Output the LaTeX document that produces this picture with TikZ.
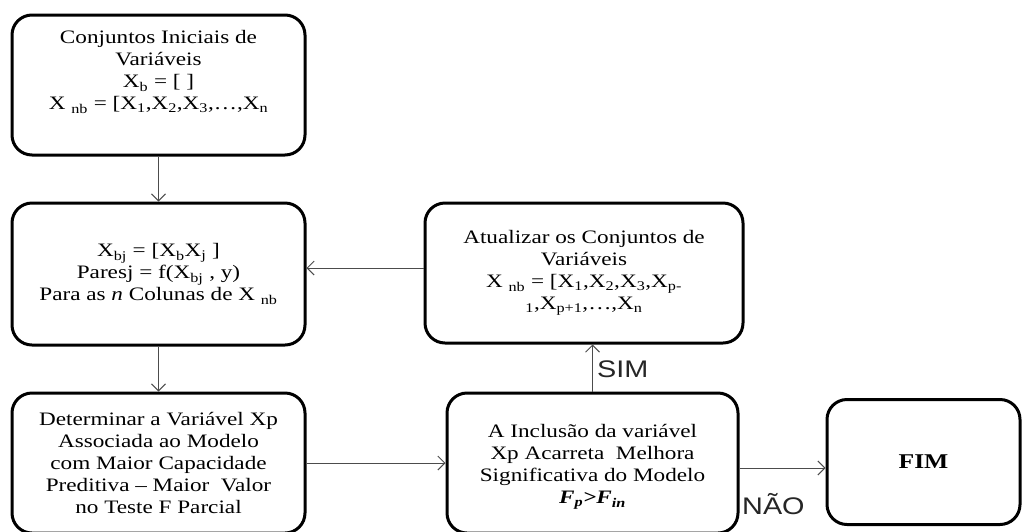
\documentclass[tikz,border=0pt]{standalone}
\usepackage{fontspec}
\setmainfont{Liberation Serif}[FakeStretch=1.22]
\newfontfamily\labelfont{Liberation Sans}[FakeStretch=1.2]
\usetikzlibrary{arrows.meta}
\tikzset{
  x=1pt, y=-1pt,
  flowbox/.style={draw, line width=3pt, rounded corners=20pt, align=center,
    inner sep=0pt, font=\fontsize{19}{22}\selectfont},
  boxtext/.style={align=center, inner sep=0pt, font=\fontsize{19}{22}\selectfont},
  flowarrow/.style={draw=black!70, line width=1pt,
    -{Straight Barb[length=7pt,width=14pt]}},
  branchlabel/.style={font=\labelfont\fontsize{24}{26}\selectfont, text=black!85, inner sep=0pt}
}
\newcommand{\sbs}[1]{\textsubscript{#1}}
\begin{document}
\begin{tikzpicture}
\useasboundingbox (0,0) rectangle (1024,531);

\node[flowbox, minimum width=293pt, minimum height=140pt] (ini) at (158.5,85) {};
\node[boxtext] (initext) at (158.5,72)
  {Conjuntos Iniciais de\\Variáveis\\X\sbs{b} = [ ]\\X \sbs{nb} = [X\sbs{1},X\sbs{2},X\sbs{3},…,X\sbs{n}};
\node[flowbox, minimum width=293pt, minimum height=142pt] (par) at (158.5,274)
  {X\sbs{bj} = [X\sbs{b}X\sbs{j} ]\\Paresj = f(X\sbs{bj} , y)\\Para as \textit{n} Colunas de X \sbs{nb}};
\node[flowbox, minimum width=318pt, minimum height=140pt] (upd) at (584,273)
  {Atualizar os Conjuntos de\\Variáveis\\X \sbs{nb} = [X\sbs{1},X\sbs{2},X\sbs{3},X\sbs{p-}\\\sbs{1},X\sbs{p+1},…,X\sbs{n}};
\node[flowbox, minimum width=293pt, minimum height=140pt] (det) at (158.5,463)
  {Determinar a Variável Xp\\Associada ao Modelo\\com Maior Capacidade\\Preditiva – Maior\ \ Valor\\no Teste F Parcial};
\node[flowbox, minimum width=291pt, minimum height=140pt] (inc) at (592.5,463) {};
\node[boxtext] (inctext) at (592.5,467)
  {A Inclusão da variável\\Xp Acarreta\ \ Melhora\\Significativa do Modelo\\{\bfseries\itshape F\sbs{p}>F\sbs{in}}};
\node[flowbox, minimum width=193pt, minimum height=125pt, font=\fontsize{21}{24}\selectfont] (fim) at (923.5,462)
  {\bfseries FIM};

\draw[flowarrow] (ini.south) -- (par.north);
\draw[flowarrow] (par.south) -- (det.north);
\draw[flowarrow] (det.east) -- (inc.west);
\draw[flowarrow] (inc.north) -- (inc.north |- upd.south);
\draw[flowarrow] ([yshift=5pt]upd.west) -- ([yshift=5pt]upd.west -| par.east);
\draw[flowarrow] ([yshift=-5pt]inc.east) -- ([yshift=-5pt]inc.east -| fim.west);

\node[branchlabel, anchor=west] (sim) at (597,369) {SIM};
\node[branchlabel, anchor=west] (nao) at (742,504) {NÃO};
\end{tikzpicture}
\end{document}
